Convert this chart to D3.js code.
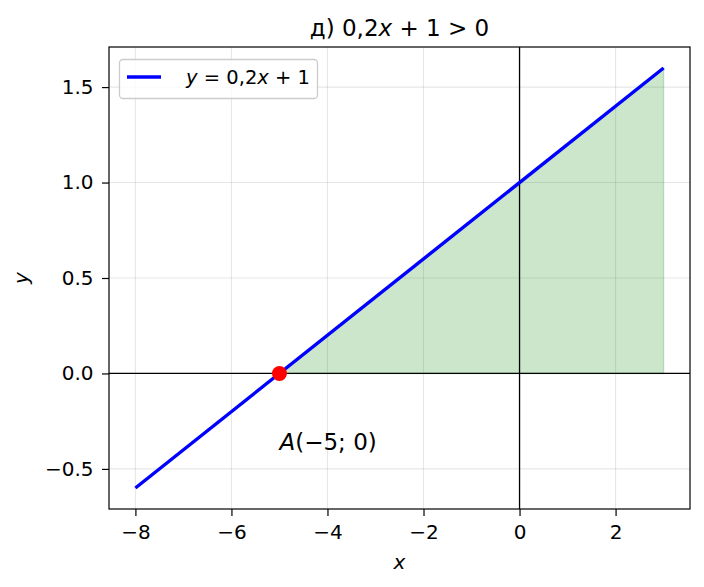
<!DOCTYPE html>
<html>
<head>
<meta charset="utf-8">
<script src="https://cdn.jsdelivr.net/npm/d3@7"></script>
<style>
  body { margin: 0; background: #fff; }
  text { font-family: "DejaVu Sans", sans-serif; fill: #000; }
</style>
</head>
<body>
<div class="chart"></div>
<script>
// line y = 0,2x + 1
var lineX = [-8, 3];
var lineY = [-0.6, 1.6];
// shaded part where 0,2x + 1 > 0
var fillX = [-5, 3];
var pointA = [-5, 0];
var xTicks = [-8, -6, -4, -2, 0, 2];
var yTicks = [-0.5, 0.0, 0.5, 1.0, 1.5];

var W = 704, H = 587;
var pLeft = 109, pRight = 690, pTop = 47, pBottom = 509;

var svg = d3.select("div.chart").append("svg")
    .attr("width", W)
    .attr("height", H);

var x = d3.scaleLinear().domain([-8.55, 3.55]).range([pLeft, pRight]);
var y = d3.scaleLinear().domain([-0.71, 1.71]).range([pBottom, pTop]);

// grid
svg.append("g").selectAll("line").data(xTicks).enter().append("line")
    .attr("x1", function(d){ return x(d); })
    .attr("x2", function(d){ return x(d); })
    .attr("y1", pTop).attr("y2", pBottom)
    .attr("stroke", "#b0b0b0").attr("stroke-opacity", 0.3).attr("stroke-width", 1.1);
svg.append("g").selectAll("line").data(yTicks).enter().append("line")
    .attr("y1", function(d){ return y(d); })
    .attr("y2", function(d){ return y(d); })
    .attr("x1", pLeft).attr("x2", pRight)
    .attr("stroke", "#b0b0b0").attr("stroke-opacity", 0.3).attr("stroke-width", 1.1);

// shaded region
var area = d3.area()
    .x(function(d){ return x(d); })
    .y0(y(0))
    .y1(function(d){ return y(0.2 * d + 1); });
svg.append("path")
    .datum(fillX)
    .attr("d", area)
    .attr("fill", "green").attr("fill-opacity", 0.2)
    .attr("stroke", "green").attr("stroke-opacity", 0.2).attr("stroke-width", 1.4);

// axes lines through zero
svg.append("line")
    .attr("x1", pLeft).attr("x2", pRight)
    .attr("y1", y(0)).attr("y2", y(0))
    .attr("stroke", "#000").attr("stroke-width", 1.3);
svg.append("line")
    .attr("x1", x(0)).attr("x2", x(0))
    .attr("y1", pTop).attr("y2", pBottom)
    .attr("stroke", "#000").attr("stroke-width", 1.3);

// the line
var pts = lineX.map(function(d, i){ return [d, lineY[i]]; });
svg.append("path")
    .datum(pts)
    .attr("d", d3.line().x(function(d){ return x(d[0]); }).y(function(d){ return y(d[1]); }))
    .attr("fill", "none").attr("stroke", "#0000ff").attr("stroke-width", 3.4);

// point A
svg.append("circle")
    .attr("cx", x(pointA[0])).attr("cy", y(pointA[1]))
    .attr("r", 7.5).attr("fill", "#ff0000");

svg.append("text")
    .attr("x", x(pointA[0])).attr("y", y(-0.4))
    .attr("font-size", "23px")
    .html('<tspan font-style="italic">A</tspan>(−5; 0)');

// axes
var xAxis = svg.append("g")
    .attr("transform", "translate(0," + pBottom + ")")
    .call(d3.axisBottom(x).tickValues(xTicks).tickSize(7).tickPadding(8.5)
        .tickFormat(function(d){ return d < 0 ? "−" + (-d) : d; }));
var yAxis = svg.append("g")
    .attr("transform", "translate(" + pLeft + ",0)")
    .call(d3.axisLeft(y).tickValues(yTicks).tickSize(7).tickPadding(8.5)
        .tickFormat(function(d){ var s = d3.format(".1f")(Math.abs(d)); return d < 0 ? "−" + s : s; }));
[xAxis, yAxis].forEach(function(g){
    g.select(".domain").remove();
    g.selectAll("line").attr("stroke", "#000").attr("stroke-width", 1.2);
    g.selectAll("text").attr("font-size", "20px").attr("font-family", "DejaVu Sans").attr("fill", "#000");
});

// frame
svg.append("rect")
    .attr("x", pLeft).attr("y", pTop)
    .attr("width", pRight - pLeft).attr("height", pBottom - pTop)
    .attr("fill", "none").attr("stroke", "#000").attr("stroke-width", 1.2);

// title
svg.append("text")
    .attr("x", (pLeft + pRight) / 2).attr("y", 36)
    .attr("text-anchor", "middle")
    .attr("font-size", "23px")
    .html('д) 0,2<tspan font-style="italic">x</tspan> + 1 &gt; 0');

// axis labels
svg.append("text")
    .attr("x", (pLeft + pRight) / 2).attr("y", 568.5)
    .attr("text-anchor", "middle").attr("font-size", "20px").attr("font-style", "italic")
    .text("x");
svg.append("text")
    .attr("transform", "translate(28," + ((pTop + pBottom) / 2) + ") rotate(-90)")
    .attr("text-anchor", "middle").attr("font-size", "20px").attr("font-style", "italic")
    .text("y");

// legend
var lg = svg.append("g");
lg.append("rect")
    .attr("x", 119.5).attr("y", 59.5).attr("width", 198).attr("height", 39)
    .attr("rx", 3.5)
    .attr("fill", "#fff").attr("fill-opacity", 0.8)
    .attr("stroke", "#cccccc").attr("stroke-width", 1.3);
lg.append("line")
    .attr("x1", 127).attr("x2", 161).attr("y1", 77).attr("y2", 77)
    .attr("stroke", "#0000ff").attr("stroke-width", 3.4);
lg.append("text")
    .attr("x", 186).attr("y", 84)
    .attr("font-size", "19.5px")
    .html('<tspan font-style="italic">y</tspan> = 0,2<tspan font-style="italic">x</tspan> + 1');
</script>
</body>
</html>
